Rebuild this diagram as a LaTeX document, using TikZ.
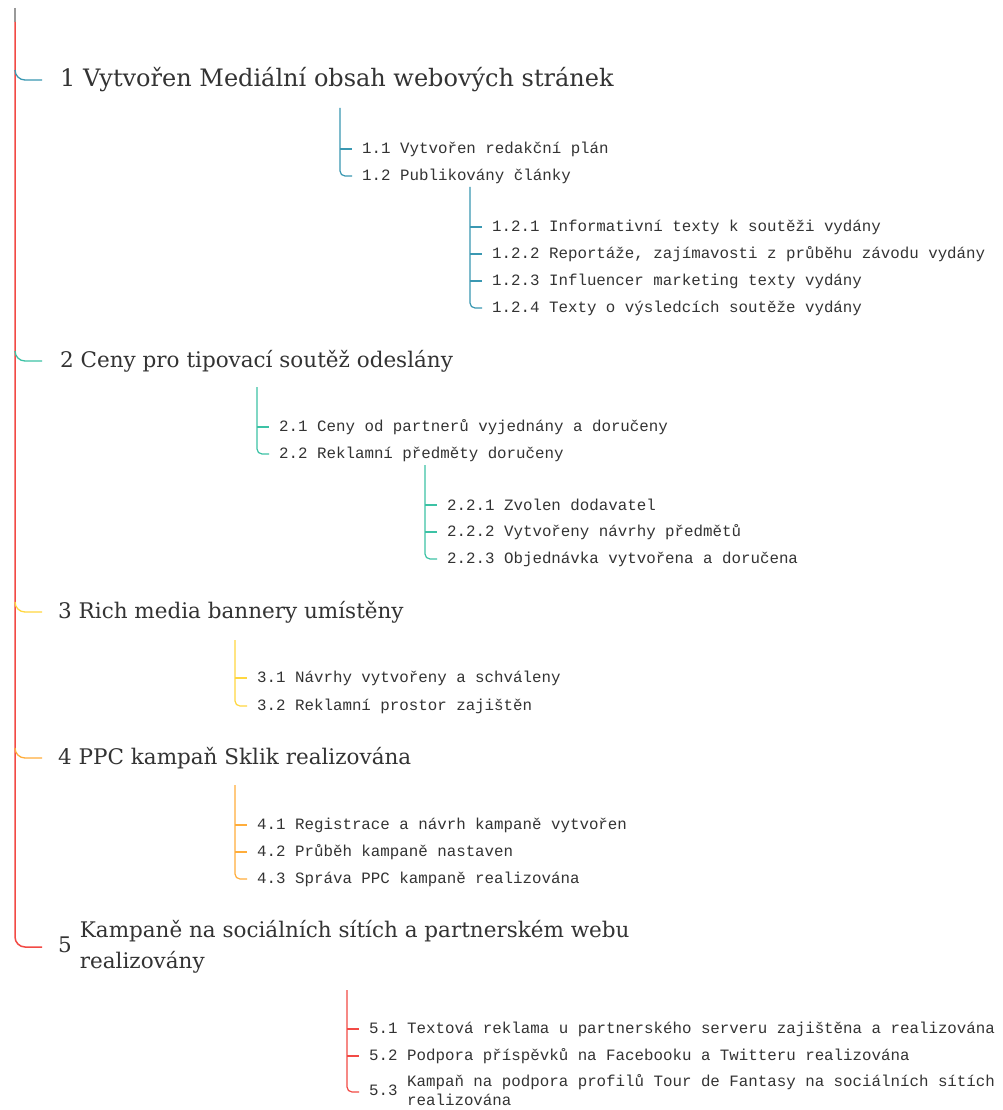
\documentclass[tikz,border=0pt]{standalone}
\usepackage{fontspec}
\setmainfont{DejaVu Serif}
\newfontfamily\monof{Liberation Mono}
\definecolor{txt}{HTML}{333333}
\definecolor{cA}{HTML}{3A98B2}
\definecolor{cB}{HTML}{3CC2A5}
\definecolor{cC}{HTML}{FFD740}
\definecolor{cD}{HTML}{FFAD3B}
\definecolor{cE}{HTML}{F24A45}
\definecolor{cTop}{HTML}{999999}
\begin{document}
\begin{tikzpicture}[x=1pt,y=-1pt,
  lone/.style={anchor=west,inner sep=0pt,text=txt,font=\fontsize{21.5}{31}\selectfont},
  ltwo/.style={anchor=west,inner sep=0pt,text=txt,font=\monof\fontsize{15.8}{19}\selectfont},
  brch/.style={line width=1.3pt,rounded corners=10pt},
  subl/.style={line width=1.2pt,rounded corners=5pt},
  tick/.style={line width=1.2pt},
  ]
\fill[white] (0,0) rectangle (1003,1110);
\useasboundingbox (0,0) rectangle (1003,1110);

% level 1 nodes
\node[lone,font=\fontsize{24}{31}\selectfont] (L1) at (60,80) {1 Vytvořen Mediální obsah webových stránek};
\node[lone] (L2) at (60,361) {2 Ceny pro tipovací soutěž odeslány};
\node[lone] (L3) at (58,612) {3 Rich media bannery umístěny};
\node[lone] (L4) at (58,758) {4 PPC kampaň Sklik realizována};
\node[lone] (L5) at (58,947) {5\hspace{8pt}\begin{tabular}[c]{@{}l@{}}Kampaně na sociálních sítích a partnerském webu\\realizovány\end{tabular}};

% level 2/3 nodes
\node[ltwo] (n11) at (362,149) {1.1 Vytvořen redakční plán};
\node[ltwo] (n12) at (362,176) {1.2 Publikovány články};
\node[ltwo] (n121) at (492,227) {1.2.1 Informativní texty k soutěži vydány};
\node[ltwo] (n122) at (492,254) {1.2.2 Reportáže, zajímavosti z průběhu závodu vydány};
\node[ltwo] (n123) at (492,281) {1.2.3 Influencer marketing texty vydány};
\node[ltwo] (n124) at (492,308) {1.2.4 Texty o výsledcích soutěže vydány};

\node[ltwo] (n21) at (279,427) {2.1 Ceny od partnerů vyjednány a doručeny};
\node[ltwo] (n22) at (279,454) {2.2 Reklamní předměty doručeny};
\node[ltwo] (n221) at (447,505) {2.2.1 Zvolen dodavatel};
\node[ltwo] (n222) at (447,532) {2.2.2 Vytvořeny návrhy předmětů};
\node[ltwo] (n223) at (447,559) {2.2.3 Objednávka vytvořena a doručena};

\node[ltwo] (n31) at (257,678) {3.1 Návrhy vytvořeny a schváleny};
\node[ltwo] (n32) at (257,706) {3.2 Reklamní prostor zajištěn};

\node[ltwo] (n41) at (257,825) {4.1 Registrace a návrh kampaně vytvořen};
\node[ltwo] (n42) at (257,852) {4.2 Průběh kampaně nastaven};
\node[ltwo] (n43) at (257,879) {4.3 Správa PPC kampaně realizována};

\node[ltwo] (n51) at (369,1029) {5.1 Textová reklama u partnerského serveru zajištěna a realizována};
\node[ltwo] (n52) at (369,1056) {5.2 Podpora příspěvků na Facebooku a Twitteru realizována};
\node[ltwo] (n53) at (369,1092) {5.3 \begin{tabular}[c]{@{}l@{}}Kampaň na podpora profilů Tour de Fantasy na sociálních sítích\\realizována\end{tabular}};

% trunk
\coordinate (rootTop) at (15,8);
\coordinate (rootRed) at (15,22);
\coordinate (t1) at (15,70);
\coordinate (t2) at (15,351);
\coordinate (t3) at (15,602);
\coordinate (t4) at (15,748);
\draw[cTop,line width=1.5pt] (rootTop) -- (rootRed);
\draw[cE,brch,line width=1.5pt] (rootRed) |- ([xshift=-16pt]L5.west);
\draw[cA,brch] (t1) |- ([xshift=-18pt]L1.west);
\draw[cB,brch] (t2) |- ([xshift=-18pt]L2.west);
\draw[cC,brch] (t3) |- ([xshift=-16pt]L3.west);
\draw[cD,brch] (t4) |- ([xshift=-16pt]L4.west);

% sub-branches of 1
\coordinate (v1) at (340,108);
\draw[cA,subl] (v1) |- ([xshift=-10pt]n12.west);
\draw[cA,tick] ([xshift=-22pt]n11.west) -- ([xshift=-10pt]n11.west);
\coordinate (v12) at (470,187);
\draw[cA,subl] (v12) |- ([xshift=-10pt]n124.west);
\foreach \n in {n121,n122,n123}
  \draw[cA,tick] ([xshift=-22pt]\n.west) -- ([xshift=-10pt]\n.west);

% sub-branches of 2
\coordinate (v2) at (257,387);
\draw[cB,subl] (v2) |- ([xshift=-10pt]n22.west);
\draw[cB,tick] ([xshift=-22pt]n21.west) -- ([xshift=-10pt]n21.west);
\coordinate (v22) at (425,465);
\draw[cB,subl] (v22) |- ([xshift=-10pt]n223.west);
\foreach \n in {n221,n222}
  \draw[cB,tick] ([xshift=-22pt]\n.west) -- ([xshift=-10pt]\n.west);

% sub-branches of 3
\coordinate (v3) at (235,640);
\draw[cC,subl] (v3) |- ([xshift=-10pt]n32.west);
\draw[cC,tick] ([xshift=-22pt]n31.west) -- ([xshift=-10pt]n31.west);

% sub-branches of 4
\coordinate (v4) at (235,785);
\draw[cD,subl] (v4) |- ([xshift=-10pt]n43.west);
\foreach \n in {n41,n42}
  \draw[cD,tick] ([xshift=-22pt]\n.west) -- ([xshift=-10pt]\n.west);

% sub-branches of 5
\coordinate (v5) at (347,990);
\draw[cE,subl] (v5) |- ([xshift=-10pt]n53.west);
\foreach \n in {n51,n52}
  \draw[cE,tick] ([xshift=-22pt]\n.west) -- ([xshift=-10pt]\n.west);
\end{tikzpicture}
\end{document}
